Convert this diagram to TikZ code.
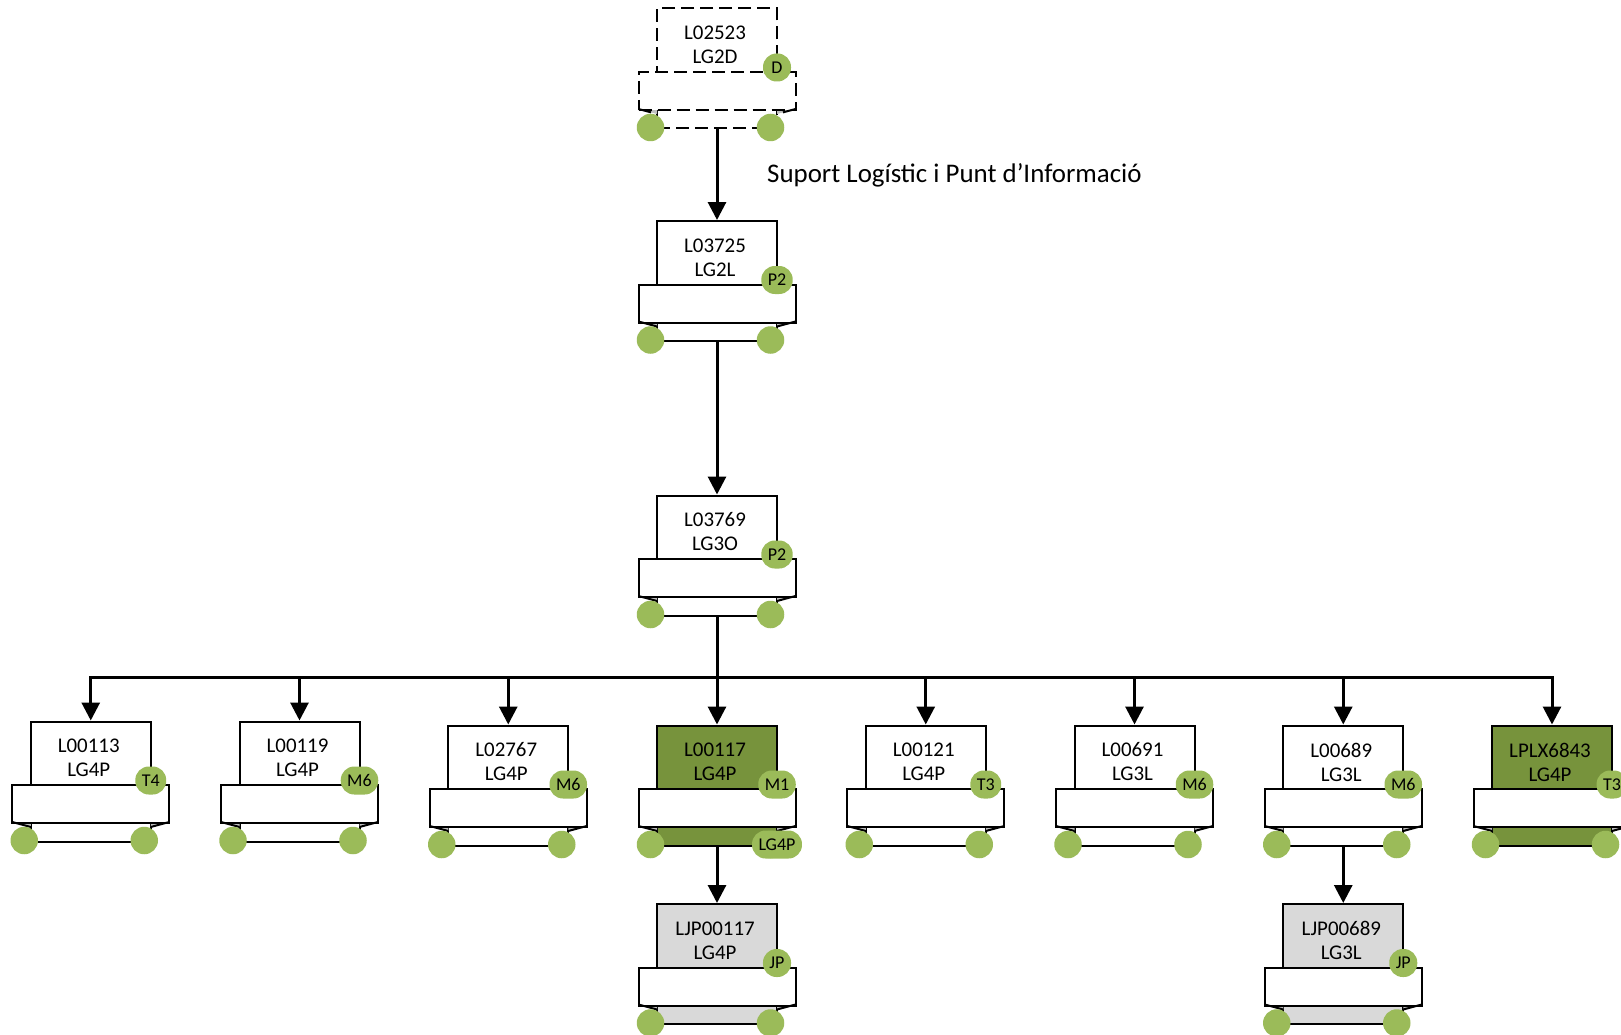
\documentclass[tikz,border=0pt]{standalone}
\usepackage{fontspec}
\setmainfont{Carlito}
\usetikzlibrary{arrows.meta}
\definecolor{badgegreen}{HTML}{9BBB59}
\definecolor{darkgreen}{HTML}{77933C}
\definecolor{jpgray}{HTML}{D9D9D9}
\definecolor{foldgray}{HTML}{BFBFBF}
\tikzset{
  ol/.style={draw=black, line width=2pt},
  dsh/.style={dash pattern=on 13pt off 6pt},
  conn/.style={line width=3pt},
  arr/.style={line width=3pt, -{Triangle[width=18pt,length=18pt]}},
  badge/.style={fill=badgegreen, rounded corners=13.5pt, minimum height=28pt, minimum width=28pt, inner xsep=6.5pt, inner ysep=0pt, font=\fontsize{18}{18}\selectfont},
  dot/.style={circle, fill=badgegreen, minimum size=27.5pt, inner sep=0pt},
  lbl/.style={align=center, font=\fontsize{20.9}{24}\selectfont, inner sep=0pt},
  title/.style={font=\fontsize{26.9}{30}\selectfont, inner sep=0pt, anchor=west}
}
% name, centre x, top y, fill, line 1, line 2, badge, line style
\newcommand\orgunit[8]{%
  \begin{scope}[shift={(#2,#3)}]
    \node[ol,#8,fill=#4,minimum width=120pt,minimum height=120pt,inner sep=0pt,anchor=north] (#1) at (0,0) {};
    \fill[foldgray] (-78.5,101.5) -- (-60,101.5) -- (-60,106.5) -- cycle;
    \fill[foldgray] (78.5,101.5) -- (60,101.5) -- (60,106.5) -- cycle;
    \node[ol,#8,fill=white,minimum width=157pt,minimum height=38pt,inner sep=0pt,anchor=north] (#1band) at (0,63.5) {};
    \draw[ol,#8] (-78.5,101.5) -- (-60,106.5);
    \draw[ol,#8] (78.5,101.5) -- (60,106.5);
    \node[lbl] (#1txt) at (-2,37.5) {#5\\#6};
    \node[dot] (#1dl) at (-66.5,120) {};
    \node[dot] (#1dr) at (53.5,120) {};
    \node[badge] (#1bdg) at (60,60) {#7};
  \end{scope}}
\begin{document}
\begin{tikzpicture}[x=1pt,y=-1pt]
\useasboundingbox (0,0) rectangle (1621,1035);
\orgunit{L02523}{717}{7.5}{white}{L02523}{LG2D}{D}{dsh}
\orgunit{L03725}{717}{220}{white}{L03725}{LG2L}{P2}{solid}
\orgunit{L03769}{717}{494.5}{white}{L03769}{LG3O}{P2}{solid}
\orgunit{L00113}{90.75}{720.5}{white}{L00113}{LG4P}{T4}{solid}
\orgunit{L00119}{299.5}{720.5}{white}{L00119}{LG4P}{M6}{solid}
\orgunit{L02767}{508.25}{724.5}{white}{L02767}{LG4P}{M6}{solid}
\orgunit{L00117}{717}{724.5}{darkgreen}{L00117}{LG4P}{M1}{solid}
\orgunit{L00121}{925.75}{724.5}{white}{L00121}{LG4P}{T3}{solid}
\orgunit{L00691}{1134.5}{724.5}{white}{L00691}{LG3L}{M6}{solid}
\orgunit{L00689}{1343.25}{724.5}{white}{L00689}{LG3L}{M6}{solid}
\orgunit{LPLX6843}{1552}{724.5}{darkgreen}{LPLX6843}{LG4P}{T3}{solid}
\orgunit{LJP00117}{717}{903}{jpgray}{LJP00117}{LG4P}{JP}{solid}
\orgunit{LJP00689}{1343.25}{903}{jpgray}{LJP00689}{LG3L}{JP}{solid}
\node[badge] (L00117lvl) at (777,844.5) {LG4P};
\node[title] (lbl) at (767,175) {Suport Logístic i Punt d’Informació};
\coordinate (bus) at (717,677);
\draw[arr] (L02523.south) -- (L03725.north);
\draw[arr] (L03725.south) -- (L03769.north);
\draw[conn] (L03769.south) -- (bus);
\foreach \n in {L00113,L00119,L02767,L00121,L00691,L00689,LPLX6843}
  \draw[arr] (bus) -| (\n.north);
\draw[arr] (bus) -- (L00117.north);
\draw[arr] (L00117.south) -- (LJP00117.north);
\draw[arr] (L00689.south) -- (LJP00689.north);
\end{tikzpicture}
\end{document}
